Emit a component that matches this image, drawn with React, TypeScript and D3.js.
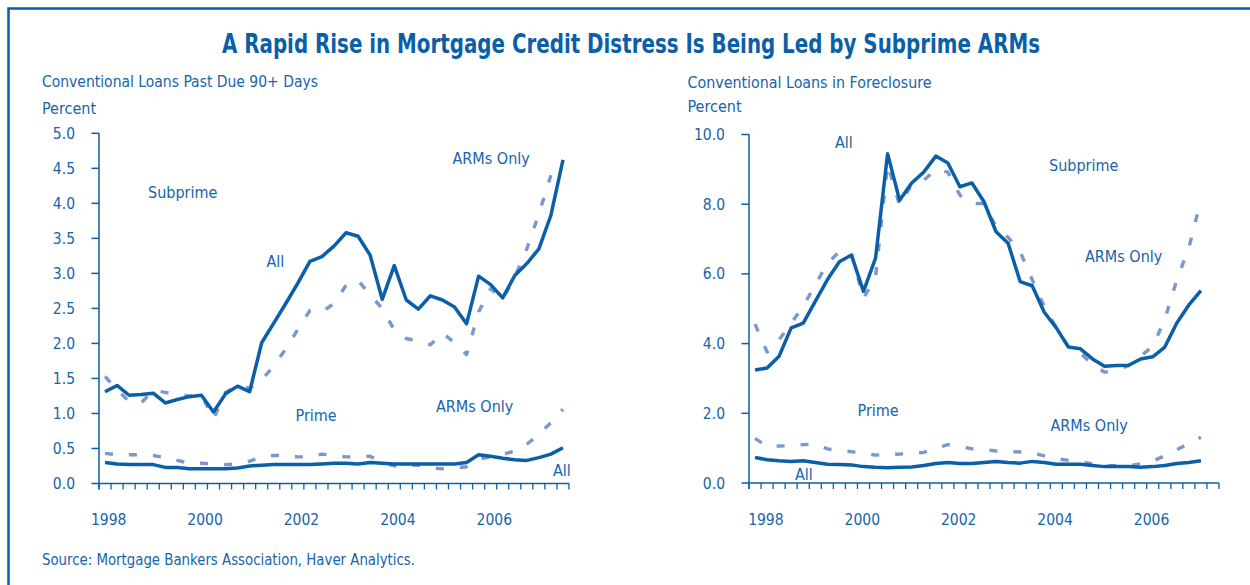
import React from "react";
import * as d3 from "d3";

// ---------- DATA (quarterly, first point = 1998Q1) ----------
const leftSubprimeAll = [1.31,1.40,1.26,1.27,1.29,1.15,1.20,1.24,1.26,1.02,1.28,1.39,1.31,2.01,2.29,2.57,2.86,3.17,3.24,3.39,3.58,3.53,3.26,2.63,3.11,2.62,2.49,2.68,2.62,2.52,2.28,2.96,2.84,2.65,2.97,3.14,3.35,3.83,4.62];
const leftSubprimeARMs = [1.53,1.34,1.17,1.15,1.33,1.30,1.27,1.25,1.27,0.92,1.30,1.40,1.36,1.48,1.68,1.92,2.20,2.47,2.45,2.57,2.83,2.90,2.69,2.50,2.19,2.07,2.03,1.98,2.15,2.01,1.84,2.45,2.78,2.63,2.95,3.35,3.85,4.40];
const leftPrimeAll = [0.30,0.28,0.27,0.27,0.27,0.23,0.23,0.21,0.21,0.21,0.21,0.22,0.25,0.26,0.27,0.27,0.27,0.27,0.28,0.29,0.29,0.28,0.30,0.29,0.28,0.28,0.28,0.28,0.28,0.28,0.30,0.41,0.39,0.36,0.34,0.33,0.37,0.42,0.51];
const leftPrimeARMs = [0.43,0.41,0.41,0.41,0.40,0.37,0.33,0.29,0.29,0.28,0.27,0.28,0.32,0.38,0.40,0.40,0.38,0.38,0.42,0.40,0.38,0.38,0.39,0.30,0.25,0.27,0.26,0.22,0.21,0.22,0.24,0.35,0.38,0.42,0.46,0.56,0.70,0.87,1.06];

const rightSubprimeAll = [3.24,3.30,3.64,4.45,4.59,5.21,5.83,6.35,6.54,5.50,6.45,9.45,8.11,8.61,8.92,9.38,9.18,8.50,8.61,8.07,7.21,6.88,5.78,5.66,4.90,4.45,3.90,3.85,3.56,3.35,3.37,3.38,3.56,3.62,3.90,4.59,5.11,5.52];
const rightSubprimeARMs = [4.56,3.76,4.11,4.59,5.07,5.69,6.30,6.64,6.59,5.30,5.90,9.15,7.97,8.57,8.69,8.99,8.92,8.26,8.02,8.02,7.35,7.05,6.64,5.83,5.07,4.45,3.92,3.73,3.40,3.18,3.24,3.37,3.64,3.92,4.69,5.83,6.75,8.12];
const rightPrimeAll = [0.73,0.67,0.64,0.62,0.64,0.59,0.54,0.53,0.52,0.47,0.45,0.44,0.45,0.46,0.50,0.56,0.59,0.56,0.56,0.59,0.62,0.59,0.57,0.62,0.59,0.54,0.54,0.54,0.50,0.47,0.47,0.47,0.45,0.47,0.50,0.56,0.59,0.64];
const rightPrimeARMs = [1.28,1.05,1.06,1.07,1.10,1.12,0.98,0.93,0.90,0.85,0.80,0.82,0.83,0.85,0.88,1.00,1.10,1.05,0.98,0.96,0.92,0.90,0.89,0.86,0.78,0.70,0.65,0.61,0.55,0.50,0.50,0.50,0.55,0.63,0.78,0.96,1.13,1.31];

const yearLabels = [1998, 2000, 2002, 2004, 2006];
const leftYTicks = [0, 0.5, 1.0, 1.5, 2.0, 2.5, 3.0, 3.5, 4.0, 4.5, 5.0];
const rightYTicks = [0, 2, 4, 6, 8, 10];

const TITLE = "A Rapid Rise in Mortgage Credit Distress Is Being Led by Subprime ARMs";
const SOURCE = "Source: Mortgage Bankers Association, Haver Analytics.";

// ---------- STYLE ----------
const FONT = "'Liberation Sans Narrow', 'DejaVu Sans Condensed', 'Roboto Condensed', 'Liberation Sans', Arial, sans-serif";
const BLUE = "#0b5fa8";
const TEXT = "#1764ab";
const DASH = "#7c97cc";
const START_YEAR = 1998;

type Label = { text: string; x: number; y: number };

type PanelProps = {
  xRange: [number, number];
  yRange: [number, number];
  yMax: number;
  yTicks: number[];
  fmt: (v: number) => string;
  series: { values: number[]; dashed: boolean }[];
  subtitle: string;
  subtitleX: number;
  subtitleY: number;
  subtitleLen: number;
  percentY: number;
  labelOffset: number;
  labels: Label[];
};

function Panel(p: PanelProps) {
  const x = d3.scaleLinear().domain([START_YEAR, START_YEAR + 39 / 4]).range(p.xRange);
  const y = d3.scaleLinear().domain([0, p.yMax]).range(p.yRange);
  const t = (i: number) => START_YEAR + (i + 0.5) / 4;
  const line = d3
    .line<number>()
    .x((_, i) => x(t(i)))
    .y((d) => y(d));
  const quarters = d3.range(0, 40).map((q) => START_YEAR + q / 4);
  const x0 = p.xRange[0];
  const y0 = y(0);
  return (
    <g>
      <text x={p.subtitleX} y={p.subtitleY} fontSize={16} fill={TEXT} fontFamily={FONT}
        textLength={p.subtitleLen} lengthAdjust="spacingAndGlyphs">{p.subtitle}</text>
      <text x={p.subtitleX} y={p.percentY} fontSize={16} fill={TEXT} fontFamily={FONT}>Percent</text>
      {/* y axis */}
      <line x1={x0} x2={x0} y1={y(p.yMax)} y2={y0 + 6} stroke={BLUE} strokeWidth={1.5} />
      {p.yTicks.map((v) => (
        <g key={v}>
          <line x1={x0 - 7.5} x2={x0} y1={y(v)} y2={y(v)} stroke={BLUE} strokeWidth={1.5} />
          <text x={x0 - 24} y={y(v) + 5.5} textAnchor="end" fontSize={15.5} fill={TEXT} fontFamily={FONT}>
            {p.fmt(v)}
          </text>
        </g>
      ))}
      {/* x axis */}
      <line x1={x0} x2={p.xRange[1]} y1={y0} y2={y0} stroke={BLUE} strokeWidth={1.5} />
      {quarters.map((q) => (
        <line key={q} x1={x(q)} x2={x(q)} y1={y0} y2={y0 + 6} stroke={BLUE} strokeWidth={1.3} />
      ))}
      {yearLabels.map((yr) => (
        <text key={yr} x={x(yr + p.labelOffset)} y={525} textAnchor="middle" fontSize={15.5} fill={TEXT} fontFamily={FONT}>
          {yr}
        </text>
      ))}
      {/* series */}
      {p.series.map((s, k) => (
        <path key={k} d={line(s.values) || ""} fill="none"
          stroke={s.dashed ? DASH : BLUE}
          strokeWidth={s.dashed ? 3.4 : 3.5}
          strokeDasharray={s.dashed ? "8,16" : undefined}
          strokeLinejoin="round" />
      ))}
      {p.labels.map((l, k) => (
        <text key={k} x={l.x} y={l.y} fontSize={16} fill={TEXT} fontFamily={FONT}>{l.text}</text>
      ))}
    </g>
  );
}

export default function App() {
  return (
    <svg width={1250} height={585} style={{ position: "absolute", left: 0, top: 0, background: "#fff" }}>
      <rect x={0} y={0} width={1250} height={585} fill="#fff" />
      <path d="M8.5,585 L8.5,8.5 L1250,8.5" fill="none" stroke={BLUE} strokeWidth={2.5} />
      <text x={222} y={53} fontSize={27} fontWeight="bold" fill={BLUE} fontFamily={FONT}
        textLength={818} lengthAdjust="spacingAndGlyphs">{TITLE}</text>
      <Panel
        xRange={[99, 569]}
        yRange={[483.5, 133.3]}
        yMax={5}
        yTicks={leftYTicks}
        fmt={(v) => v.toFixed(1)}
        series={[
          { values: leftPrimeARMs, dashed: true },
          { values: leftSubprimeARMs, dashed: true },
          { values: leftPrimeAll, dashed: false },
          { values: leftSubprimeAll, dashed: false },
        ]}
        subtitle="Conventional Loans Past Due 90+ Days"
        subtitleX={42}
        subtitleY={87}
        subtitleLen={276}
        percentY={113.5}
        labelOffset={0.2}
        labels={[
          { text: "Subprime", x: 148, y: 197.5 },
          { text: "All", x: 266.5, y: 267 },
          { text: "ARMs Only", x: 452.5, y: 163.5 },
          { text: "Prime", x: 295.5, y: 421 },
          { text: "ARMs Only", x: 436, y: 412 },
          { text: "All", x: 553, y: 476 },
        ]}
      />
      <Panel
        xRange={[749, 1219]}
        yRange={[483, 134.5]}
        yMax={10}
        yTicks={rightYTicks}
        fmt={(v) => v.toFixed(1)}
        series={[
          { values: rightPrimeARMs, dashed: true },
          { values: rightSubprimeARMs, dashed: true },
          { values: rightPrimeAll, dashed: false },
          { values: rightSubprimeAll, dashed: false },
        ]}
        subtitle="Conventional Loans in Foreclosure"
        subtitleX={687.5}
        subtitleY={88}
        subtitleLen={244}
        percentY={112}
        labelOffset={0.35}
        labels={[
          { text: "All", x: 835, y: 148 },
          { text: "Subprime", x: 1049, y: 170.5 },
          { text: "ARMs Only", x: 1085, y: 261.5 },
          { text: "Prime", x: 857.5, y: 415.5 },
          { text: "ARMs Only", x: 1050.5, y: 430.5 },
          { text: "All", x: 795, y: 480 },
        ]}
      />
      <text x={42} y={565} fontSize={15} fill={TEXT} fontFamily={FONT}
        textLength={373} lengthAdjust="spacingAndGlyphs">{SOURCE}</text>
    </svg>
  );
}
